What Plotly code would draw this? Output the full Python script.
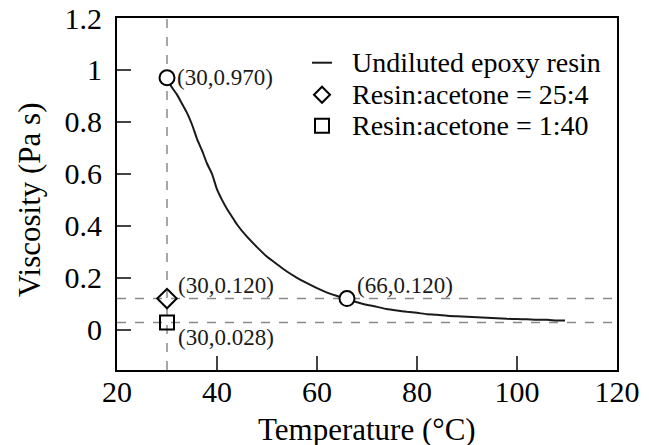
import plotly.graph_objects as go

# Undiluted epoxy resin viscosity curve
temp_c = [30.0, 30.9, 32.0, 33.0, 34.0, 35.0, 36.0, 37.0, 38.0, 39.0, 40.0, 41.0,
          42.0, 43.0, 44.0, 45.9, 48.0, 49.9, 52.0, 53.9, 56.0, 57.9, 60.0, 61.9,
          64.0, 65.9, 68.0, 69.9, 72.0, 73.9, 76.0, 78.0, 80.0, 82.0, 84.0, 86.0,
          88.0, 90.0, 92.0, 94.0, 96.0, 98.0, 100.0, 102.0, 104.0, 106.0, 108.0, 109.6]
viscosity = [0.970, 0.935, 0.905, 0.870, 0.835, 0.790, 0.735, 0.690, 0.640, 0.600, 0.540, 0.500,
             0.465, 0.435, 0.405, 0.360, 0.318, 0.283, 0.252, 0.225, 0.200, 0.180, 0.160, 0.144,
             0.130, 0.118, 0.106, 0.096, 0.088, 0.080, 0.074, 0.069, 0.065, 0.060, 0.058, 0.054,
             0.052, 0.050, 0.048, 0.046, 0.044, 0.042, 0.041, 0.040, 0.038, 0.038, 0.036, 0.036]

# Highlighted points on the curve
key_x = [30, 66]
key_y = [0.970, 0.120]
key_labels = ["(30,0.970)", "(66,0.120)"]

# Diluted samples
mix1_x, mix1_y = [30], [0.120]
mix2_x, mix2_y = [30], [0.028]
mix_labels = ["(30,0.120)", "(30,0.028)"]

series_names = ["Undiluted epoxy resin", "Resin:acetone = 25:4", "Resin:acetone = 1:40"]

x_ticks = [20, 40, 60, 80, 100, 120]
y_ticks = [0, 0.2, 0.4, 0.6, 0.8, 1, 1.2]
y_ticktext = ["0", "0.2", "0.4", "0.6", "0.8", "1", "1.2"]

FONT = "Liberation Serif, Times New Roman, serif"
INK = "#1a1a1a"

fig = go.Figure()

# reference dashed lines
for yv in [0.120, 0.028]:
    fig.add_shape(type="line", xref="paper", yref="y", x0=0, x1=1, y0=yv, y1=yv,
                  line=dict(color="#8a8a8a", width=1.5, dash="dash"), layer="below")
fig.add_shape(type="line", xref="x", yref="paper", x0=30, x1=30, y0=0, y1=1,
              line=dict(color="#8a8a8a", width=1.5, dash="dash"), layer="below")

fig.add_trace(go.Scatter(x=temp_c, y=viscosity, mode="lines", showlegend=False,
                         line=dict(color=INK, width=2, shape="spline", smoothing=0.6),
                         name=series_names[0]))
fig.add_trace(go.Scatter(x=mix1_x, y=mix1_y, mode="markers", showlegend=False,
                         marker=dict(symbol="diamond-open", size=15, color="black",
                                     line=dict(width=2, color="black")),
                         name=series_names[1]))
fig.add_trace(go.Scatter(x=mix2_x, y=mix2_y, mode="markers", showlegend=False,
                         marker=dict(symbol="square-open", size=14, color="black",
                                     line=dict(width=2, color="black")),
                         name=series_names[2]))
fig.add_trace(go.Scatter(x=key_x, y=key_y, mode="markers", showlegend=False,
                         marker=dict(symbol="circle", size=15, color="white",
                                     line=dict(width=2, color="black"))))

ann_font = dict(family=FONT, size=23, color=INK)
fig.add_annotation(x=key_x[0], y=key_y[0], text=key_labels[0], showarrow=False,
                   xanchor="left", yanchor="middle", xshift=8, font=ann_font)
fig.add_annotation(x=key_x[1], y=key_y[1], text=key_labels[1], showarrow=False,
                   xanchor="left", yanchor="middle", xshift=8, yshift=13, font=ann_font)
fig.add_annotation(x=mix1_x[0], y=mix1_y[0], text=mix_labels[0], showarrow=False,
                   xanchor="left", yanchor="middle", xshift=9, yshift=13, font=ann_font)
fig.add_annotation(x=mix2_x[0], y=mix2_y[0], text=mix_labels[1], showarrow=False,
                   xanchor="left", yanchor="middle", xshift=9, yshift=-15, font=ann_font)

# manual legend (paper coordinates)
leg_font = dict(family=FONT, size=28, color="black")
row_y = [0.873, 0.782, 0.694]
sym_x = 0.41
txt_x = 0.466
fig.add_shape(type="line", xref="paper", yref="paper", x0=sym_x - 0.02, x1=sym_x + 0.02,
              y0=row_y[0], y1=row_y[0], line=dict(color=INK, width=2))
fig.add_shape(type="path", xref="paper", yref="paper", xsizemode="pixel", ysizemode="pixel",
              xanchor=sym_x, yanchor=row_y[1], path="M 0 8 L 8 0 L 0 -8 L -8 0 Z",
              line=dict(color="black", width=2))
fig.add_shape(type="rect", xref="paper", yref="paper", xsizemode="pixel", ysizemode="pixel",
              xanchor=sym_x, yanchor=row_y[2], x0=-7, x1=7, y0=-7, y1=7,
              line=dict(color="black", width=2))
for ry, nm in zip(row_y, series_names):
    fig.add_annotation(xref="paper", yref="paper", x=txt_x, y=ry, text=nm, showarrow=False,
                       xanchor="left", yanchor="middle", font=leg_font)

# axis titles
title_font = dict(family=FONT, size=31, color="black")
fig.add_annotation(xref="paper", yref="paper", x=0.5, y=-0.168, text="Temperature (°C)",
                   showarrow=False, xanchor="center", yanchor="middle", font=title_font)
fig.add_annotation(xref="paper", yref="paper", x=-0.174, y=0.483, text="Viscosity (Pa s)",
                   showarrow=False, xanchor="center", yanchor="middle", textangle=-90,
                   font=title_font)

# the page body adds an 8px offset, so the figure is sized to end at the window edge
fig.update_layout(
    width=641, height=437,
    margin=dict(l=109, r=32, t=10, b=75, autoexpand=False),
    paper_bgcolor="white", plot_bgcolor="white",
    font=dict(family=FONT, size=30, color="black"),
    showlegend=False,
    xaxis=dict(range=[20, 120], tickvals=x_ticks, ticks="inside", ticklen=14, tickwidth=2,
               showline=True, linecolor="black", linewidth=2, mirror=True,
               showgrid=False, zeroline=False, automargin=False, ticklabelstandoff=-6,
               ticklabeloverflow="allow",
               tickfont=dict(family=FONT, size=30, color="black")),
    yaxis=dict(range=[-0.155, 1.2], tickvals=y_ticks, ticktext=y_ticktext,
               ticks="inside", ticklen=14, tickwidth=2,
               showline=True, linecolor="black", linewidth=2, mirror=True,
               showgrid=False, zeroline=False, automargin=False, ticklabelstandoff=7,
               ticklabeloverflow="allow",
               tickfont=dict(family=FONT, size=30, color="black")),
)

fig.write_html("out.html")
